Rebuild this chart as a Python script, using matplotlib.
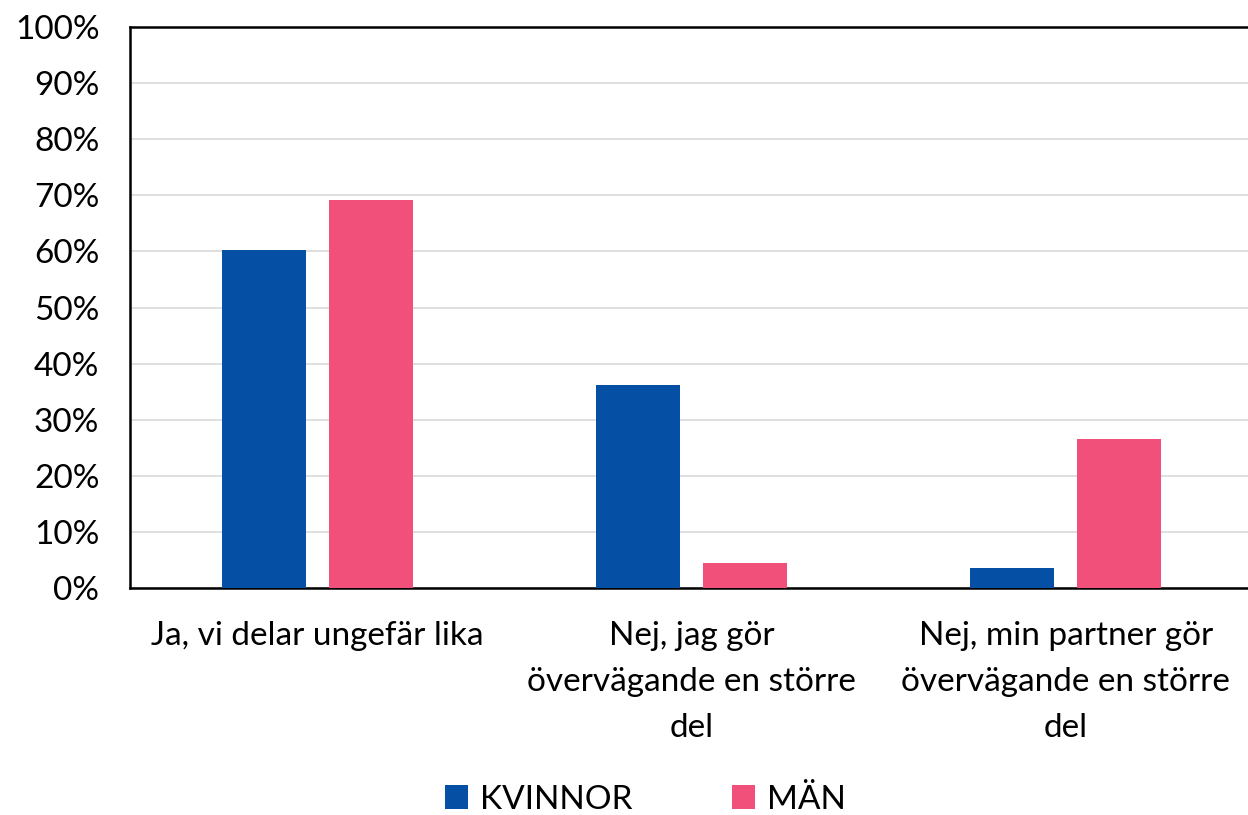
import numpy as np
import matplotlib.pyplot as plt

categories = ["Ja, vi delar ungefär lika",
              "Nej, jag gör\növervägande en större\ndel",
              "Nej, min partner gör\növervägande en större\ndel"]
kvinnor = [60.2, 36.2, 3.6]
man = [69.1, 4.4, 26.6]
yticks = np.arange(0, 101, 10)

plt.rcParams['font.family'] = ['Lato', 'DejaVu Sans']

fig = plt.figure(figsize=(12.48, 8.15), dpi=100)
ax = fig.add_axes([130 / 1248, 1 - 588 / 815, 1123 / 1248, 561 / 815])

x = np.arange(len(categories))
w = 0.225
off = 0.143
ax.bar(x - off, kvinnor, w, color='#0550A5', label='KVINNOR', zorder=3)
ax.bar(x + off, man, w, color='#F0507A', label='MÄN', zorder=3)

ax.set_xlim(-0.5, 2.5)
ax.set_ylim(0, 100)
ax.set_yticks(yticks)
ax.set_yticklabels([f"{v}%" for v in yticks])
ax.set_xticks(x)
ax.set_xticklabels(categories, linespacing=1.65)
ax.tick_params(axis='both', length=0, labelsize=24, colors='black')
ax.tick_params(axis='x', pad=24)
ax.tick_params(axis='y', pad=22)
ax.grid(axis='y', color='#d9d9d9', linewidth=1.2, zorder=0)
for s in ['left', 'top', 'bottom']:
    ax.spines[s].set_linewidth(1.8)
    ax.spines[s].set_color('black')
ax.spines['right'].set_visible(False)

fig.legend(loc='center', bbox_to_anchor=(0.517, 0.019), ncol=2, frameon=False,
           fontsize=24, handlelength=0.7, handleheight=0.7, columnspacing=3.0,
           handletextpad=0.35, borderpad=0.1)

fig.savefig('out.png', dpi=100)
